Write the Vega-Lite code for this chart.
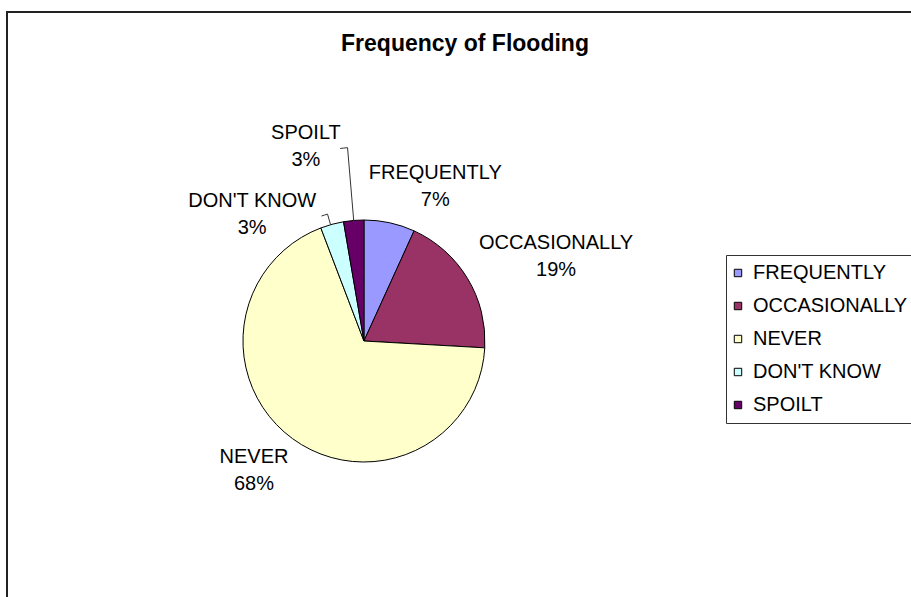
{
  "$schema": "https://vega.github.io/schema/vega-lite/v6.json",
  "autosize": "none",
  "padding": {"left": 7, "top": 12, "right": 0, "bottom": 0},
  "width": 916,
  "height": 658,
  "background": "white",
  "view": {"stroke": "#222", "strokeWidth": 2},
  "title": {"text": "Frequency of Flooding", "font": "Liberation Sans", "fontSize": 23, "fontWeight": "bold", "color": "black", "anchor": "middle", "baseline": "alphabetic", "offset": -62},
  "config": {
    "view": {"stroke": "#222", "strokeWidth": 2},
    "text": {"font": "Liberation Sans", "fontSize": 20, "color": "black", "baseline": "middle", "align": "center"}
  },
  "data": {"values": [
    {"category": "FREQUENTLY", "value": 0.068, "idx": 1},
    {"category": "OCCASIONALLY", "value": 0.191, "idx": 2},
    {"category": "NEVER", "value": 0.683, "idx": 3},
    {"category": "DON'T KNOW", "value": 0.031, "idx": 4},
    {"category": "SPOILT", "value": 0.027, "idx": 5}
  ]},
  "encoding": {
    "theta": {"field": "value", "type": "quantitative", "stack": true},
    "order": {"field": "idx", "type": "quantitative"}
  },
  "layer": [
    {
      "mark": {"type": "arc", "outerRadius": 121, "stroke": "black", "strokeWidth": 1, "x": {"expr": "width*0.3897"}, "y": {"expr": "height/2"}},
      "encoding": {
        "color": {"field": "category", "type": "nominal",
          "scale": {"domain": ["FREQUENTLY", "OCCASIONALLY", "NEVER", "DON'T KNOW", "SPOILT"], "range": ["#9999FF", "#993366", "#FFFFCC", "#CCFFFF", "#660066"]},
          "legend": {"orient": "none", "legendX": 719, "legendY": 243, "title": null, "symbolType": "square", "symbolSize": 55, "symbolStrokeColor": "black", "symbolStrokeWidth": 1, "symbolOffset": -6, "labelFont": "Liberation Sans", "labelFontSize": 20, "labelColor": "black", "rowPadding": 13, "labelOffset": 5, "padding": 8, "strokeColor": "#333", "fillColor": "white"}}
      }
    },
    {"mark": {"type": "arc", "innerRadius": 121, "outerRadius": 194, "fill": null, "stroke": "#333", "strokeWidth": 1, "thetaOffset": -0.0848, "strokeDash": [7.4, 119, 80, 2000], "x": {"expr": "width*0.3897"}, "y": {"expr": "height/2"}},
     "encoding": {"strokeOpacity": {"condition": {"test": "datum.category === 'SPOILT'", "value": 1}, "value": 0}}},
    {"mark": {"type": "arc", "innerRadius": 121, "outerRadius": 132, "fill": null, "stroke": "#333", "strokeWidth": 1, "thetaOffset": -0.110, "strokeDash": [6.4, 53.9, 15, 2000], "x": {"expr": "width*0.3897"}, "y": {"expr": "height/2"}},
     "encoding": {"strokeOpacity": {"condition": {"test": "datum.category === \"DON'T KNOW\"", "value": 1}, "value": 0}}},
    {"mark": {"type": "text", "radius": 170, "thetaOffset": 0.219, "dy": -13.5, "x": {"expr": "width*0.3897"}, "y": {"expr": "height/2"}},
     "encoding": {"text": {"condition": {"test": "datum.category === 'FREQUENTLY'", "field": "category"}, "value": ""}}},
    {"mark": {"type": "text", "radius": 170, "thetaOffset": 0.219, "dy": 13.5, "x": {"expr": "width*0.3897"}, "y": {"expr": "height/2"}},
     "encoding": {"text": {"condition": {"test": "datum.category === 'FREQUENTLY'", "field": "value", "format": ".0%"}, "value": ""}}},
    {"mark": {"type": "text", "radius": 210, "thetaOffset": 0.128, "dy": -13.5, "x": {"expr": "width*0.3897"}, "y": {"expr": "height/2"}},
     "encoding": {"text": {"condition": {"test": "datum.category === 'OCCASIONALLY'", "field": "category"}, "value": ""}}},
    {"mark": {"type": "text", "radius": 210, "thetaOffset": 0.128, "dy": 13.5, "x": {"expr": "width*0.3897"}, "y": {"expr": "height/2"}},
     "encoding": {"text": {"condition": {"test": "datum.category === 'OCCASIONALLY'", "field": "value", "format": ".0%"}, "value": ""}}},
    {"mark": {"type": "text", "radius": 170, "thetaOffset": 0.072, "dy": -13.5, "x": {"expr": "width*0.3897"}, "y": {"expr": "height/2"}},
     "encoding": {"text": {"condition": {"test": "datum.category === 'NEVER'", "field": "category"}, "value": ""}}},
    {"mark": {"type": "text", "radius": 170, "thetaOffset": 0.072, "dy": 13.5, "x": {"expr": "width*0.3897"}, "y": {"expr": "height/2"}},
     "encoding": {"text": {"condition": {"test": "datum.category === 'NEVER'", "field": "value", "format": ".0%"}, "value": ""}}},
    {"mark": {"type": "text", "radius": 169, "thetaOffset": -0.456, "dy": -13.5, "x": {"expr": "width*0.3897"}, "y": {"expr": "height/2"}},
     "encoding": {"text": {"condition": {"test": "datum.category === \"DON'T KNOW\"", "field": "category"}, "value": ""}}},
    {"mark": {"type": "text", "radius": 169, "thetaOffset": -0.456, "dy": 13.5, "x": {"expr": "width*0.3897"}, "y": {"expr": "height/2"}},
     "encoding": {"text": {"condition": {"test": "datum.category === \"DON'T KNOW\"", "field": "value", "format": ".0%"}, "value": ""}}},
    {"mark": {"type": "text", "radius": 203, "thetaOffset": -0.205, "dy": -13.5, "x": {"expr": "width*0.3897"}, "y": {"expr": "height/2"}},
     "encoding": {"text": {"condition": {"test": "datum.category === 'SPOILT'", "field": "category"}, "value": ""}}},
    {"mark": {"type": "text", "radius": 203, "thetaOffset": -0.205, "dy": 13.5, "x": {"expr": "width*0.3897"}, "y": {"expr": "height/2"}},
     "encoding": {"text": {"condition": {"test": "datum.category === 'SPOILT'", "field": "value", "format": ".0%"}, "value": ""}}}
  ]
}
